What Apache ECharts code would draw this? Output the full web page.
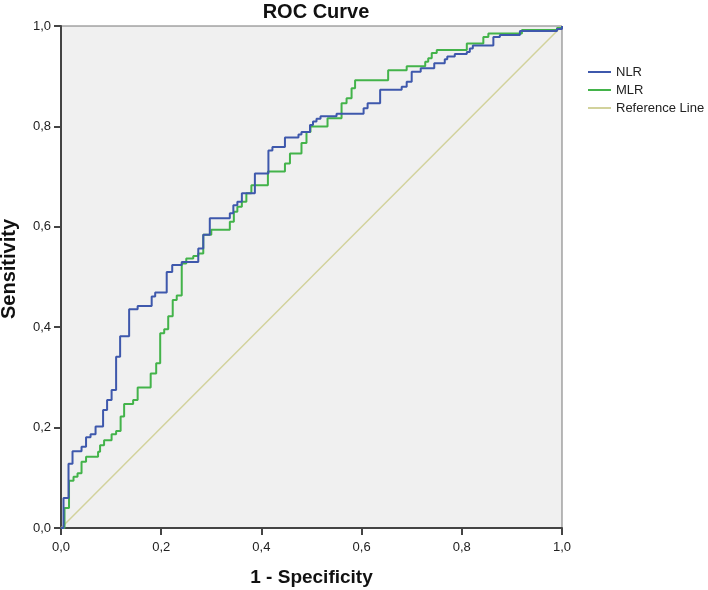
<!DOCTYPE html>
<html><head><meta charset="utf-8">
<script src="https://cdn.jsdelivr.net/npm/echarts@6/dist/echarts.min.js"></script>
<style>html,body{margin:0;padding:0;background:#fff}#c{width:708px;height:590px}</style>
</head><body><div id="c"></div>
<script>
const nlrX = [0,0.005,0.015,0.023,0.041,0.05,0.059,0.069,0.084,0.092,0.101,0.11,0.118,0.136,0.153,0.181,0.188,0.211,0.222,0.241,0.274,0.284,0.297,0.337,0.344,0.352,0.361,0.387,0.414,0.422,0.447,0.474,0.48,0.497,0.503,0.51,0.518,0.55,0.604,0.612,0.637,0.68,0.69,0.7,0.718,0.745,0.766,0.771,0.786,0.81,0.816,0.822,0.863,0.876,0.916,0.99,1];
const nlrY = [0,0.06,0.128,0.153,0.162,0.181,0.187,0.202,0.235,0.255,0.275,0.341,0.382,0.436,0.442,0.461,0.469,0.51,0.524,0.53,0.557,0.584,0.617,0.627,0.643,0.65,0.667,0.706,0.752,0.759,0.778,0.784,0.789,0.803,0.81,0.815,0.82,0.825,0.836,0.846,0.873,0.879,0.889,0.909,0.916,0.926,0.934,0.939,0.944,0.948,0.955,0.961,0.978,0.982,0.99,0.994,1];
const mlrX = [0,0.007,0.016,0.025,0.033,0.041,0.05,0.074,0.078,0.086,0.101,0.11,0.119,0.126,0.144,0.153,0.179,0.19,0.198,0.206,0.214,0.223,0.231,0.241,0.25,0.264,0.274,0.284,0.3,0.337,0.345,0.352,0.361,0.37,0.38,0.413,0.447,0.457,0.48,0.49,0.498,0.532,0.56,0.57,0.58,0.587,0.653,0.69,0.727,0.733,0.74,0.75,0.81,0.843,0.853,0.92,0.99,1];
const mlrY = [0,0.04,0.094,0.102,0.109,0.132,0.142,0.152,0.165,0.175,0.187,0.193,0.222,0.247,0.255,0.28,0.308,0.328,0.388,0.396,0.422,0.454,0.463,0.527,0.537,0.542,0.547,0.584,0.594,0.61,0.63,0.64,0.65,0.667,0.683,0.71,0.726,0.746,0.767,0.789,0.8,0.816,0.846,0.856,0.876,0.892,0.912,0.92,0.929,0.936,0.946,0.952,0.965,0.978,0.985,0.992,0.996,1];
const refX = [0,1];
const refY = [0,1];
const tickLabels = ['0,0','0,2','0,4','0,6','0,8','1,0'];
const seriesNames = ['NLR','MLR','Reference Line'];

const zip = (a,b)=>a.map((v,i)=>[v,b[i]]);
const chart = echarts.init(document.getElementById('c'), null, {renderer:'canvas'});
const font = 'Liberation Sans, Arial, sans-serif';
const fmt = v => tickLabels[Math.round(v*5)] || '';
const axisCommon = {
  type:'value', min:0, max:1, interval:0.2,
  axisLine:{show:true, lineStyle:{color:'#444', width:2}},
  axisTick:{show:true, inside:false, length:7, lineStyle:{color:'#444', width:2}},
  splitLine:{show:false},
  axisLabel:{color:'#222', fontFamily:font, fontSize:13, formatter:fmt},
  nameLocation:'middle',
  nameTextStyle:{color:'#111', fontFamily:font, fontSize:19, fontWeight:'bold'}
};
chart.setOption({
  animation:false,
  backgroundColor:'#ffffff',
  title:{text:'ROC Curve', left:311, textAlign:'center', top:-3,
    textStyle:{color:'#111', fontFamily:font, fontSize:20, fontWeight:'bold'}},
  grid:{left:61, right:146, top:26, bottom:62, show:true, backgroundColor:'#f0f0f0', borderColor:'#777', borderWidth:1,
    outerBoundsMode:'none', containLabel:false},
  legend:{orient:'vertical', left:583, top:60, itemWidth:23, itemHeight:2, itemGap:4, icon:'rect',
    data:seriesNames, textStyle:{color:'#222', fontFamily:font, fontSize:13, lineHeight:14}},
  xAxis:Object.assign({}, axisCommon, {name:'1 - Specificity', nameGap:40,
    axisLabel:Object.assign({}, axisCommon.axisLabel, {margin:13})}),
  yAxis:Object.assign({}, axisCommon, {name:'Sensitivity', nameGap:42,
    nameTextStyle:Object.assign({}, axisCommon.nameTextStyle, {fontSize:20, padding:[0,0,0,16]}),
    axisLabel:Object.assign({}, axisCommon.axisLabel, {margin:10})}),
  series:[
    {name:seriesNames[0], type:'line', step:'end', showSymbol:false, symbol:'none', data:zip(nlrX,nlrY),
      lineStyle:{color:'#3e58ac', width:2}, itemStyle:{color:'#3e58ac'}, z:4},
    {name:seriesNames[1], type:'line', step:'end', showSymbol:false, symbol:'none', data:zip(mlrX,mlrY),
      lineStyle:{color:'#43b34a', width:2}, itemStyle:{color:'#43b34a'}, z:3},
    {name:seriesNames[2], type:'line', showSymbol:false, symbol:'none', data:zip(refX,refY),
      lineStyle:{color:'#d2d29c', width:1.5}, itemStyle:{color:'#d2d29c'}, z:2}
  ]
});
</script></body></html>
